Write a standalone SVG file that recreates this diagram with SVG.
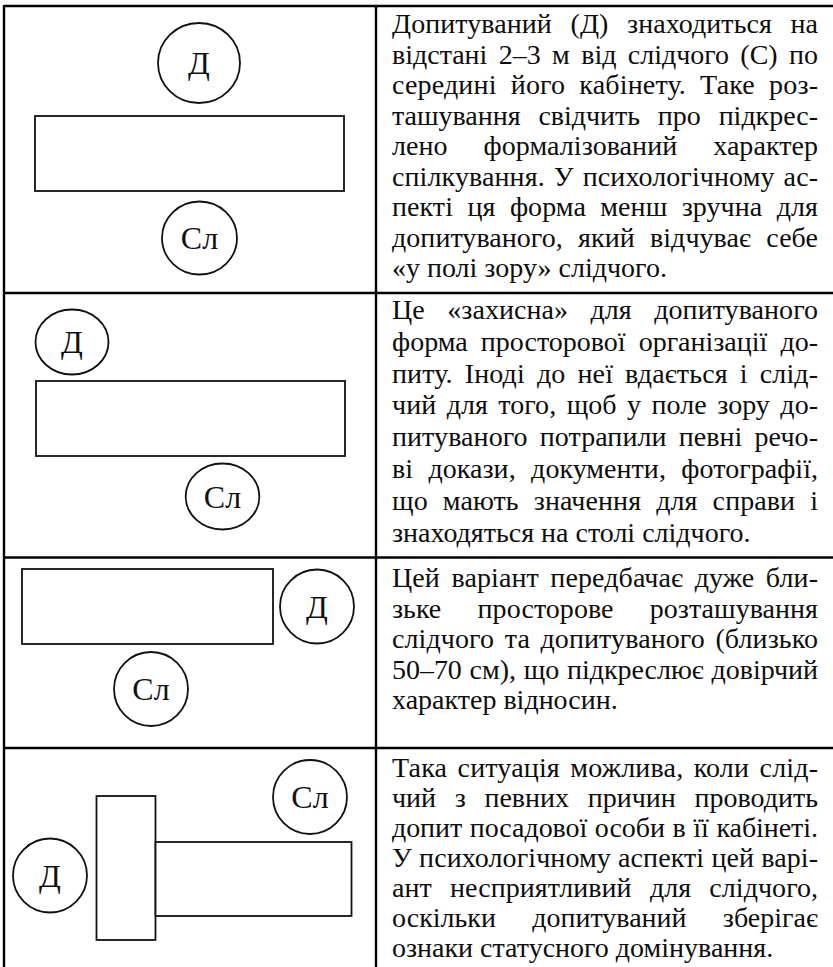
<svg xmlns="http://www.w3.org/2000/svg" width="833" height="967" viewBox="0 0 833 967">
  <style>
    .grid { stroke: #000; stroke-width: 2.4; fill: none; }
    .desk { stroke: #111; stroke-width: 1.8; fill: #fff; }
    .person { stroke: #111; stroke-width: 1.8; fill: #fff; }
    .tag { font-family: "Liberation Serif", "Times New Roman", serif; font-size: 32px; fill: #111; text-anchor: middle; }
    .body { font-family: "Liberation Serif", "Times New Roman", serif; font-size: 28px; fill: #0d0d0d; }
  </style>

  <!-- table rules -->
  <g id="table-grid" class="grid">
    <line x1="4" y1="6" x2="833" y2="6"/>
    <line x1="4" y1="5" x2="4" y2="967"/>
    <line x1="376" y1="5" x2="376" y2="967"/>
    <line x1="4" y1="293" x2="833" y2="293"/>
    <line x1="4" y1="557.5" x2="833" y2="557.5"/>
    <line x1="4" y1="748" x2="833" y2="748"/>
  </g>

  <!-- no connectors in this layout -->
  <g id="connectors"/>

  <!-- scheme 1: face to face across the desk -->
  <g id="scheme-1">
    <g id="s1-desk"><rect class="desk" x="35" y="116" width="309" height="75"/></g>
    <g id="s1-d"><ellipse class="person" cx="199" cy="63" rx="41" ry="40"/><text class="tag" x="199" y="74">Д</text></g>
    <g id="s1-sl"><ellipse class="person" cx="199.5" cy="238" rx="37.5" ry="36.5"/><text class="tag" x="199.5" y="249">Сл</text></g>
  </g>

  <!-- scheme 2: diagonal placement -->
  <g id="scheme-2">
    <g id="s2-desk"><rect class="desk" x="36" y="381" width="309" height="75"/></g>
    <g id="s2-d"><ellipse class="person" cx="72" cy="342" rx="36.5" ry="32.5"/><text class="tag" x="72" y="353">Д</text></g>
    <g id="s2-sl"><ellipse class="person" cx="222.5" cy="496.5" rx="36.8" ry="33"/><text class="tag" x="222.5" y="507.5">Сл</text></g>
  </g>

  <!-- scheme 3: close corner placement -->
  <g id="scheme-3">
    <g id="s3-desk"><rect class="desk" x="22" y="569" width="251" height="75"/></g>
    <g id="s3-d"><ellipse class="person" cx="317" cy="606.5" rx="37" ry="37"/><text class="tag" x="317" y="617.5">Д</text></g>
    <g id="s3-sl"><ellipse class="person" cx="151" cy="689" rx="37" ry="37"/><text class="tag" x="151" y="700">Сл</text></g>
  </g>

  <!-- scheme 4: T-shaped office desk -->
  <g id="scheme-4">
    <g id="s4-desk-head"><rect class="desk" x="96.5" y="796" width="59" height="144"/></g>
    <g id="s4-desk-long"><rect class="desk" x="155.5" y="842" width="196" height="74"/></g>
    <g id="s4-sl"><ellipse class="person" cx="310" cy="797" rx="37" ry="37"/><text class="tag" x="310" y="808">Сл</text></g>
    <g id="s4-d"><ellipse class="person" cx="50" cy="875.5" rx="37" ry="37"/><text class="tag" x="50" y="886.5">Д</text></g>
  </g>

  <!-- descriptions -->
  <g id="text-1" class="body">
    <text x="392" y="33" textLength="426" lengthAdjust="spacing" style="word-spacing:11.5px">Допитуваний (Д) знаходиться на</text>
    <text x="392" y="63.5" textLength="426" lengthAdjust="spacing" style="word-spacing:4.4px">відстані 2–3 м від слідчого (С) по</text>
    <text x="392" y="94" textLength="426" lengthAdjust="spacing" style="word-spacing:7px">середині його кабінету. Таке роз-</text>
    <text x="392" y="124.5" textLength="426" lengthAdjust="spacing" style="word-spacing:10.9px">ташування свідчить про підкрес-</text>
    <text x="392" y="155" textLength="426" lengthAdjust="spacing" style="word-spacing:28.9px">лено формалізований характер</text>
    <text x="392" y="185.5" textLength="426" lengthAdjust="spacing" style="word-spacing:1.9px">спілкування. У психологічному ас-</text>
    <text x="392" y="216" textLength="426" lengthAdjust="spacing" style="word-spacing:7.4px">пекті ця форма менш зручна для</text>
    <text x="392" y="246.5" textLength="426" lengthAdjust="spacing" style="word-spacing:8.2px">допитуваного, який відчуває себе</text>
    <text x="392" y="277">«у полі зору» слідчого.</text>
  </g>

  <g id="text-2" class="body">
    <text x="392" y="319" textLength="426" lengthAdjust="spacing" style="word-spacing:15.4px">Це «захисна» для допитуваного</text>
    <text x="392" y="350.8" textLength="426" lengthAdjust="spacing" style="word-spacing:6.1px">форма просторової організації до-</text>
    <text x="392" y="382.6" textLength="426" lengthAdjust="spacing" style="word-spacing:4.9px">питу. Іноді до неї вдається і слід-</text>
    <text x="392" y="414.4" textLength="426" lengthAdjust="spacing" style="word-spacing:3.4px">чий для того, щоб у поле зору до-</text>
    <text x="392" y="446.2" textLength="426" lengthAdjust="spacing" style="word-spacing:5px">питуваного потрапили певні речо-</text>
    <text x="392" y="478" textLength="426" lengthAdjust="spacing" style="word-spacing:8.4px">ві докази, документи, фотографії,</text>
    <text x="392" y="509.8" textLength="426" lengthAdjust="spacing" style="word-spacing:8px">що мають значення для справи і</text>
    <text x="392" y="541.6">знаходяться на столі слідчого.</text>
  </g>

  <g id="text-3" class="body">
    <text x="392" y="587" textLength="426" lengthAdjust="spacing" style="word-spacing:4.4px">Цей варіант передбачає дуже бли-</text>
    <text x="392" y="617.5" textLength="426" lengthAdjust="spacing" style="word-spacing:29.2px">зьке просторове розташування</text>
    <text x="392" y="648" textLength="426" lengthAdjust="spacing" style="word-spacing:3.5px">слідчого та допитуваного (близько</text>
    <text x="392" y="678.5" textLength="426" lengthAdjust="spacing" style="word-spacing:0.8px">50–70 см), що підкреслює довірчий</text>
    <text x="392" y="709">характер відносин.</text>
  </g>

  <g id="text-4" class="body">
    <text x="392" y="777" textLength="426" lengthAdjust="spacing" style="word-spacing:3.2px">Така ситуація можлива, коли слід-</text>
    <text x="392" y="807" textLength="426" lengthAdjust="spacing" style="word-spacing:11.6px">чий з певних причин проводить</text>
    <text x="392" y="837" textLength="426" lengthAdjust="spacing" style="word-spacing:0.7px">допит посадової особи в її кабінеті.</text>
    <text x="392" y="867" textLength="426" lengthAdjust="spacing" style="word-spacing:0.1px">У психологічному аспекті цей варі-</text>
    <text x="392" y="897" textLength="426" lengthAdjust="spacing" style="word-spacing:11.2px">ант несприятливий для слідчого,</text>
    <text x="392" y="927" textLength="426" lengthAdjust="spacing" style="word-spacing:29.3px">оскільки допитуваний зберігає</text>
    <text x="392" y="957">ознаки статусного домінування.</text>
  </g>
</svg>
